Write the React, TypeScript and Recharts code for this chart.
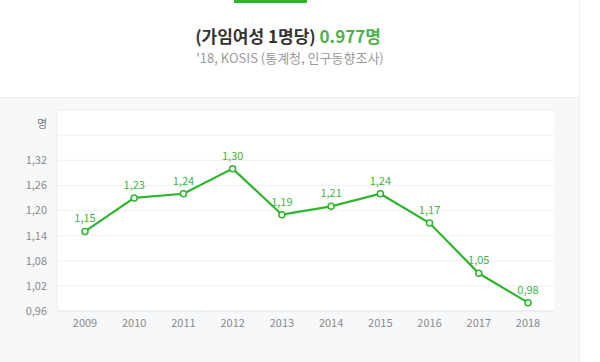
import React from 'react';
import {
  LineChart, Line, XAxis, YAxis, CartesianGrid, LabelList,
} from 'recharts';

// 합계출산율 (가임여성 1명당), 통계청 인구동향조사
const YEARS = ['2009', '2010', '2011', '2012', '2013', '2014', '2015', '2016', '2017', '2018'];
const RATES = [1.15, 1.23, 1.24, 1.3, 1.19, 1.21, 1.24, 1.17, 1.05, 0.98];
const Y_TICKS = [0.96, 1.02, 1.08, 1.14, 1.2, 1.26, 1.32, 1.38, 1.44];

const GREEN = '#2db52d';
const LABEL_GREEN = '#45b445';
const FONT = "'Noto Sans CJK KR', 'Noto Sans', sans-serif";

const data = YEARS.map((year, i) => ({ year, rate: RATES[i] }));

const comma = (v: number) => v.toFixed(2).replace('.', ',');

export default function App() {
  return (
    <div
      style={{
        position: 'absolute', left: 0, top: 0, width: 600, height: 362,
        background: '#fff', fontFamily: FONT, overflow: 'hidden',
      }}
    >
      {/* 상단 제목 영역 */}
      <div
        style={{
          position: 'absolute', left: 0, top: 0, width: 579, height: 97,
          background: '#fff', borderRight: '1px solid #eceef1', borderBottom: '1px solid #eef0f3',
        }}
      >
        <div style={{ position: 'absolute', left: 234, top: 0, width: 73, height: 3, background: GREEN }} />
        <div
          style={{
            position: 'absolute', left: 0, width: 576, top: 24, textAlign: 'center',
            fontSize: 17, fontWeight: 700, color: '#333', lineHeight: '24px',
          }}
        >
          (가임여성 1명당) <span style={{ color: '#4cb34c' }}>0.977명</span>
        </div>
        <div
          style={{
            position: 'absolute', left: 0, width: 580, top: 49, textAlign: 'center',
            fontSize: 13, color: '#9a9a9a', lineHeight: '18px',
          }}
        >
          '18, KOSIS (통계청, 인구동향조사)
        </div>
      </div>

      {/* 차트 영역 */}
      <div
        style={{
          position: 'absolute', left: 0, top: 98, width: 579, height: 264,
          background: '#f7f8fa', borderRight: '1px solid #eceef1',
        }}
      />
      <div style={{ position: 'absolute', left: 0, top: 98 }}>
        <LineChart
          width={600}
          height={264}
          data={data}
          margin={{ top: 12, right: 46, left: 0, bottom: 21 }}
        >
          <CartesianGrid vertical={false} stroke="#eff0f2" fill="#fff" />
          <XAxis
            dataKey="year"
            height={30}
            padding={{ left: 28, right: 26 }}
            axisLine={{ stroke: '#e6e8eb' }}
            tickLine={false}
            tickMargin={2}
            tick={{ fill: '#8a8a8a', fontSize: 11, fontFamily: FONT }}
          />
          <YAxis
            width={57}
            domain={[0.96, 1.44]}
            ticks={Y_TICKS}
            interval={0}
            axisLine={{ stroke: '#eceef1' }}
            tickLine={false}
            tickMargin={4}
            tickFormatter={(v: number) => (v > 1.33 ? '' : comma(v))}
            tick={{ fill: '#8a8a8a', fontSize: 11, fontFamily: FONT }}
            label={{
              value: '명', position: 'insideTopRight', offset: 10,
              fill: '#777', fontSize: 11, fontFamily: FONT,
            }}
          />
          <YAxis
            yAxisId="r"
            orientation="right"
            width={0}
            domain={[0.96, 1.44]}
            tick={false}
            tickLine={false}
            axisLine={{ stroke: '#eceef1' }}
          />
          <Line
            type="linear"
            dataKey="rate"
            stroke={GREEN}
            strokeWidth={2.2}
            dot={{ r: 3, fill: '#fff', stroke: GREEN, strokeWidth: 1.5 }}
            isAnimationActive={false}
          >
            <LabelList
              dataKey="rate"
              position="top"
              offset={9}
              formatter={(v: number) => comma(v)}
              fill={LABEL_GREEN}
              fontSize={11}
              fontFamily={FONT}
            />
          </Line>
        </LineChart>
      </div>
    </div>
  );
}
